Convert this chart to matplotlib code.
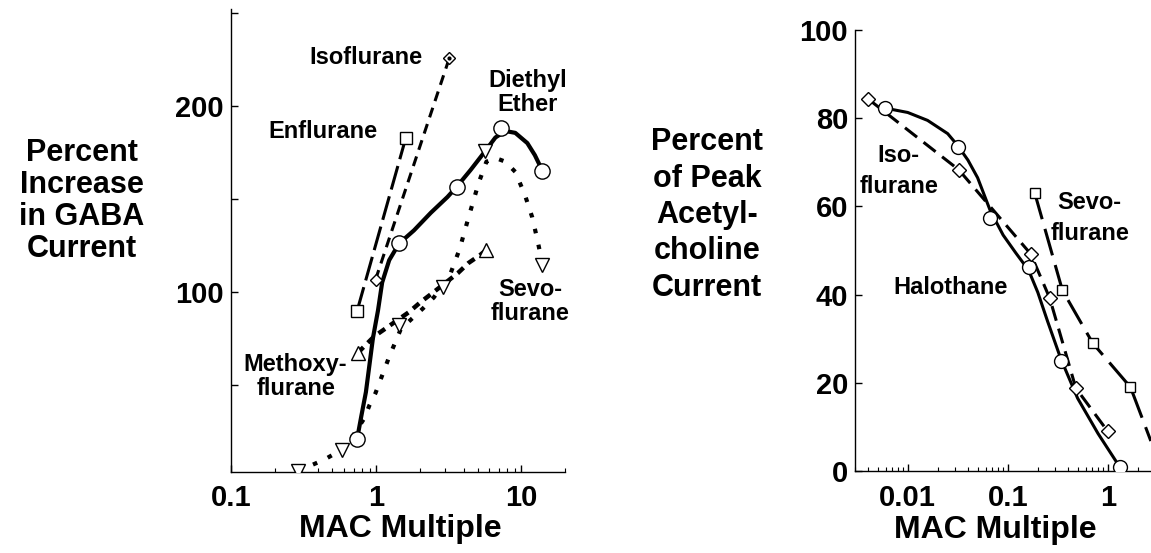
import matplotlib
matplotlib.use('Agg')
import matplotlib.pyplot as plt
from matplotlib.ticker import FixedLocator, LogLocator, NullFormatter

plt.rcParams['font.family'] = ['Liberation Sans', 'DejaVu Sans']
plt.rcParams['font.weight'] = 'bold'

# ---------------- left panel: % increase in GABA current ----------------
gaba_ether_x = [0.74, 1.44, 3.59, 7.25, 13.9]
gaba_ether_y = [21, 126, 156.5, 188, 165]
gaba_ether_fit_x = [0.74, 0.79, 0.85, 0.95, 1.03, 1.10, 1.23, 1.44, 1.82, 2.38,
                    3.10, 3.59, 4.47, 5.49, 6.63, 7.77, 9.09, 11.0, 12.4, 13.9]
gaba_ether_fit_y = [21, 33, 46, 75, 90, 105, 117, 126, 133, 142.5,
                    151, 156.5, 165.5, 174.5, 183, 186.5, 185.5, 180, 173.5, 165.5]

gaba_sevo_x = [0.29, 0.585, 1.44, 2.87, 5.6, 13.9]
gaba_sevo_y = [3.5, 15, 82, 102.7, 176, 114.5]
gaba_sevo_fit_x = [0.29, 0.44, 0.58, 0.64, 0.70, 0.83, 0.90, 0.99, 1.23, 1.48, 2.10,
                   2.50, 3.26, 3.76, 4.33, 5.08, 5.75, 6.63, 7.77, 9.09, 10.6,
                   11.9, 12.9, 13.9]
gaba_sevo_fit_y = [3.5, 9.7, 15, 18.7, 23, 32, 39, 45.5, 65, 80, 91,
                   97, 110, 123, 140, 158.5, 170, 172, 170, 164.5, 152,
                   140, 128, 116]

gaba_methoxy_x = [0.75, 5.75]
gaba_methoxy_y = [67, 122.6]
gaba_methoxy_fit_x = [0.75, 0.79, 0.97, 1.13, 1.68, 2.03, 2.46, 3.65, 4.33, 5.25, 5.75]
gaba_methoxy_fit_y = [67, 69, 76, 79.6, 89, 94.5, 99.5, 110, 115.5, 120, 122.6]

gaba_iso_x = [0.99, 3.2]
gaba_iso_y = [106.5, 226]

gaba_enf_x = [0.74, 1.6]
gaba_enf_y = [89.8, 182.8]

# ---------------- right panel: % of peak acetylcholine current ----------------
ach_halo_x = [0.0059, 0.0316, 0.067, 0.162, 0.339, 1.32]
ach_halo_y = [82.3, 73.5, 57.4, 46.3, 25, 0.9]
ach_halo_fit_x = [0.0059, 0.01, 0.0158, 0.0251, 0.0316, 0.04, 0.05, 0.067, 0.09,
                  0.12, 0.162, 0.2, 0.25, 0.339, 0.5, 0.8, 1.32]
ach_halo_fit_y = [82.3, 81.3, 79.5, 76.5, 73.8, 70.5, 66.5, 59, 53.5,
                  49.5, 45.5, 40.5, 34, 25.5, 16.5, 8.5, 0.9]

ach_iso_x = [0.004, 0.0324, 0.17, 0.263, 0.48, 1.0]
ach_iso_y = [84.4, 68.3, 49.2, 39.2, 18.8, 9]

ach_sevo_x = [0.186, 0.352, 0.708, 1.69]
ach_sevo_y = [63.1, 41, 29, 19]
ach_sevo_line_x = [0.186, 0.352, 0.708, 1.69, 2.7]
ach_sevo_line_y = [63.1, 41, 29, 19, 6.8]

W, H = 1151, 553
fig = plt.figure(figsize=(W / 100, H / 100), dpi=100)

ax1 = fig.add_axes([231 / W, (H - 472) / H, (565 - 231) / W, (472 - 9.3) / H])
ax2 = fig.add_axes([855 / W, (H - 471) / H, (W - 855) / W, 441 / H])

mk = dict(mfc='white', mec='black', mew=1.0, zorder=5, ls='none')

# left panel curves
ax1.plot(gaba_enf_x, gaba_enf_y, color='black', lw=2.2, ls=(0, (8, 2.3)))
ax1.plot(gaba_iso_x, gaba_iso_y, color='black', lw=2.2, ls=(0, (3.3, 2.3)))
ax1.plot(gaba_ether_fit_x, gaba_ether_fit_y, color='black', lw=3)
ax1.plot(gaba_sevo_fit_x, gaba_sevo_fit_y, color='black', lw=3, ls=(0, (1.1, 2.8)))
ax1.plot(gaba_methoxy_fit_x, gaba_methoxy_fit_y, color='black', lw=3.2, ls=(0, (1.8, 1.4)))

ax1.plot(gaba_enf_x, gaba_enf_y, marker='s', ms=8, **mk)
ax1.plot(gaba_iso_x, gaba_iso_y, marker='D', ms=6.5, **mk)
ax1.plot(gaba_iso_x[-1:], gaba_iso_y[-1:], marker='.', ms=4, color='black', ls='none', zorder=6)
ax1.plot(gaba_ether_x, gaba_ether_y, marker='o', ms=11, **mk)
ax1.plot(gaba_sevo_x, gaba_sevo_y, marker='v', ms=9.5, **mk)
ax1.plot(gaba_methoxy_x, gaba_methoxy_y, marker='^', ms=9.5, **mk)

ax1.set_xscale('log')
ax1.set_xlim(0.1, 20)
ax1.set_ylim(3, 252)
ax1.xaxis.set_major_locator(FixedLocator([0.1, 1, 10]))
ax1.set_xticklabels(['0.1', '1', '10'])
ax1.xaxis.set_minor_locator(LogLocator(base=10, subs=range(2, 10)))
ax1.xaxis.set_minor_formatter(NullFormatter())
ax1.set_yticks([50, 100, 150, 200, 250])
ax1.set_yticklabels(['', '100', '', '200', ''])

lab = dict(ha='center', va='center', fontsize=17, fontweight='bold', linespacing=1.05)
ax1.text(0.854, 226.3, 'Isoflurane', **lab)
ax1.text(11.0, 207, 'Diethyl\nEther', **lab)
ax1.text(0.433, 186, 'Enflurane', **lab)
ax1.text(11.5, 94.6, 'Sevo-\nflurane', **lab)
ax1.text(0.279, 54.3, 'Methoxy-\nflurane', **lab)

# right panel curves
ax2.plot(ach_halo_fit_x, ach_halo_fit_y, color='black', lw=2.2)
ax2.plot(ach_iso_x, ach_iso_y, color='black', lw=2.2, ls=(0, (5, 2.7)))
ax2.plot(ach_sevo_line_x, ach_sevo_line_y, color='black', lw=2.2, ls=(0, (9, 3.3)))

ax2.plot(ach_halo_x, ach_halo_y, marker='o', ms=10, **mk)
ax2.plot(ach_iso_x, ach_iso_y, marker='D', ms=7, **mk)
ax2.plot(ach_sevo_x, ach_sevo_y, marker='s', ms=7, **mk)

ax2.set_xscale('log')
ax2.set_xlim(0.00297, 2.71)
ax2.set_ylim(0, 100)
ax2.xaxis.set_major_locator(FixedLocator([0.01, 0.1, 1]))
ax2.set_xticklabels(['0.01', '0.1', '1'])
ax2.xaxis.set_minor_locator(LogLocator(base=10, subs=range(2, 10)))
ax2.xaxis.set_minor_formatter(NullFormatter())
ax2.set_yticks([0, 20, 40, 60, 80, 100])

lab2 = dict(ha='center', va='center', fontsize=17, fontweight='bold', linespacing=1.45)
ax2.text(0.00813, 68, 'Iso-\nflurane', **lab2)
ax2.text(0.661, 57.4, 'Sevo-\nflurane', **lab2)
ax2.text(0.0269, 41.7, 'Halothane', **lab2)

for ax in (ax1, ax2):
    ax.spines['top'].set_visible(False)
    ax.spines['right'].set_visible(False)
    for s in ('left', 'bottom'):
        ax.spines[s].set_linewidth(1.0)
    ax.tick_params(which='major', direction='in', length=5, width=1.0, labelsize=21)
    ax.tick_params(which='minor', direction='in', length=3, width=0.8)
    ax.tick_params(axis='x', which='major', pad=9)
    ax.tick_params(axis='y', which='major', pad=5)
    for t in ax.get_xticklabels() + ax.get_yticklabels():
        t.set_fontweight('bold')

fig.text(82 / W, 1 - 201 / H, 'Percent\nIncrease\nin GABA\nCurrent', ha='center', va='center',
         fontsize=22, fontweight='bold', linespacing=1.1)
fig.text(707 / W, 1 - 215 / H, 'Percent\nof Peak\nAcetyl-\ncholine\nCurrent', ha='center',
         va='center', fontsize=22, fontweight='bold', linespacing=1.28)
fig.text(400 / W, 1 - 537 / H, 'MAC Multiple', ha='center', va='baseline',
         fontsize=23, fontweight='bold')
fig.text(995 / W, 1 - 538 / H, 'MAC Multiple', ha='center', va='baseline',
         fontsize=23, fontweight='bold')

fig.savefig('out.png', dpi=100)
